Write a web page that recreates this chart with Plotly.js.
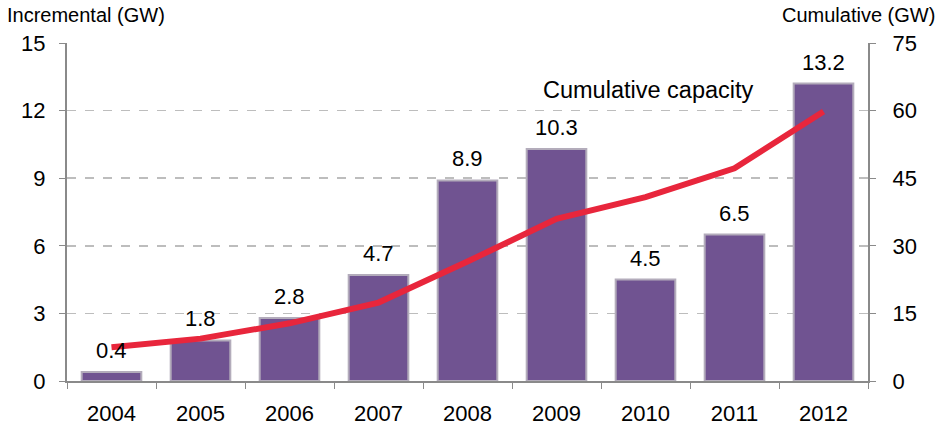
<!DOCTYPE html>
<html>
<head>
<meta charset="utf-8">
<script src="https://cdn.plot.ly/plotly-3.0.1.min.js"></script>
<style>html,body{margin:0;padding:0;background:#fff;}#chart{width:950px;height:429px;}</style>
</head>
<body>
<div id="chart"></div>
<script>
const years = ['2004','2005','2006','2007','2008','2009','2010','2011','2012'];
const incremental = [0.4, 1.8, 2.8, 4.7, 8.9, 10.3, 4.5, 6.5, 13.2];
const cumulative = [7.5, 9.4, 12.8, 17.4, 26.5, 36.0, 40.8, 47.2, 59.8];
const incrementalLabels = ['0.4','1.8','2.8','4.7','8.9','10.3','4.5','6.5','13.2'];

const font = 'Liberation Sans, Arial, sans-serif';

const traces = [
  {
    type: 'bar', x: years, y: incremental, yaxis: 'y',
    marker: {color: '#705391', line: {color: '#b3acbb', width: 2}},
    hoverinfo: 'x+y', showlegend: false
  },
  {
    type: 'scatter', mode: 'lines', x: years, y: cumulative, yaxis: 'y2',
    line: {color: '#e8263c', width: 6},
    showlegend: false
  }
];

// category index i positions the label over its bar
const labelAnnotations = years.map((yr, i) => ({
  text: incrementalLabels[i], xref: 'x', yref: 'y', x: i, y: incremental[i],
  xanchor: 'center', yanchor: 'bottom', yshift: 7, showarrow: false,
  font: {size: 22, family: font, color: '#000'}
}));

const layout = {
  width: 950, height: 429,
  margin: {l: 67, r: 82, t: 43, b: 48},
  paper_bgcolor: '#fff', plot_bgcolor: '#fff',
  font: {family: font, color: '#000'},
  bargap: 0.33,
  xaxis: {
    type: 'category', range: [-0.5, 8.5], tickson: 'boundaries', ticks: 'outside', ticklen: 6,
    tickcolor: '#8a8a8a', showline: true, linecolor: '#8a8a8a', linewidth: 2,
    showgrid: false, tickfont: {size: 22, family: font}, ticklabelstandoff: 12, fixedrange: true
  },
  yaxis: {
    range: [0, 15], dtick: 3, ticks: 'outside', ticklen: 6, tickcolor: '#8a8a8a',
    showline: true, linecolor: '#8a8a8a', linewidth: 2,
    showgrid: true, gridcolor: '#bdbdbd', griddash: 'dash', gridwidth: 1.5,
    zeroline: false, tickfont: {size: 22, family: font}, ticklabelstandoff: 9
  },
  yaxis2: {
    range: [0, 75], dtick: 15, overlaying: 'y', side: 'right',
    ticks: 'outside', ticklen: 6, tickcolor: '#8a8a8a',
    showline: true, linecolor: '#8a8a8a', linewidth: 2,
    showgrid: false, zeroline: false, tickfont: {size: 22, family: font}, ticklabelstandoff: 12
  },
  annotations: labelAnnotations.concat([
    {text: 'Incremental (GW)', xref: 'paper', yref: 'paper', x: 0, xshift: -62, y: 1.0, yshift: 28,
     xanchor: 'left', yanchor: 'middle', showarrow: false, font: {size: 20, family: font}},
    {text: 'Cumulative (GW)', xref: 'paper', yref: 'paper', x: 1.0, xshift: 69, y: 1.0, yshift: 28,
     xanchor: 'right', yanchor: 'middle', showarrow: false, font: {size: 20, family: font}},
    {text: 'Cumulative capacity', xref: 'paper', yref: 'paper', x: 0, xshift: 581, y: 1.0, yshift: -47,
     xanchor: 'center', yanchor: 'middle', showarrow: false, font: {size: 23.5, family: font}}
  ])
};

Plotly.newPlot('chart', traces, layout, {displayModeBar: false, staticPlot: true});
</script>
</body>
</html>
